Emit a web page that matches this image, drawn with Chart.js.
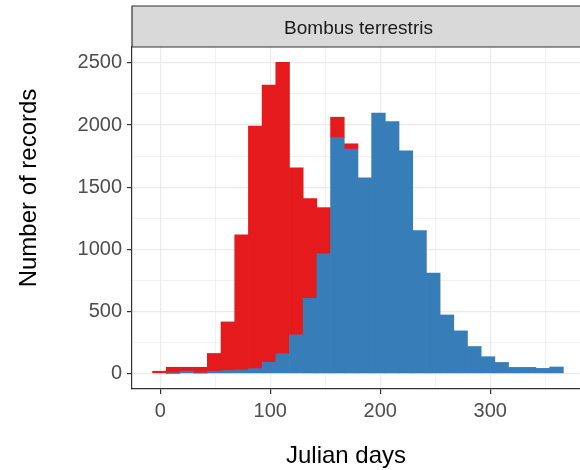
<!DOCTYPE html>
<html>
<head>
<meta charset="utf-8">
<title>Bombus terrestris</title>
<script src="https://cdn.jsdelivr.net/npm/chart.js@4.4.1/dist/chart.umd.min.js"></script>
<style>
  html, body { margin: 0; padding: 0; background: #fff; overflow: hidden; }
  #wrap { width: 580px; height: 470px; overflow: hidden; position: relative; }
  canvas { display: block; }
</style>
</head>
<body>
<div id="wrap"><canvas id="histo" width="590" height="470"></canvas></div>
<script>
// --- DONNEES : records par classe de jours juliens (30 classes) ---
const binMid = [-0.775, 11.675, 24.125, 36.575, 49.025, 61.475, 73.925, 86.375, 98.825, 111.275,
                123.725, 136.175, 148.625, 161.075, 173.525, 185.975, 198.425, 210.875, 223.325, 235.775,
                248.225, 260.675, 273.125, 285.575, 298.025, 310.475, 322.925, 335.375, 347.825, 360.275];
const countBlue = [0, 2, 18, 4, 18, 23, 28, 39, 89, 159,
                   311, 604, 964, 1898, 1807, 1575, 2097, 2028, 1793, 1151,
                   809, 471, 343, 217, 135, 89, 49, 49, 41, 52];
const countRed = [18, 48, 32, 46, 143, 392, 1088, 1952, 2232, 2346,
                  1344, 803, 371, 165, 42, 0, 0, 0, 0, 0,
                  0, 0, 0, 0, 0, 0, 0, 0, 0, 0];

const xMajor = [0, 100, 200, 300];
const xMinor = [50, 150, 250, 350];
const yMajor = [0, 500, 1000, 1500, 2000, 2500];
const yMinor = [250, 750, 1250, 1750, 2250];

const panelTitle = 'Bombus terrestris';
const xTitle = 'Julian days';
const yTitle = 'Number of records';

const FONT = "'Liberation Sans', Arial, sans-serif";

// ticks majeurs + mineurs (les mineurs n'ont pas de label)
function buildTicks(major, minor) {
    return major.concat(minor).sort((a, b) => a - b).map(v => ({ value: v }));
}

// est-ce un tick majeur ? (le contexte n'a pas toujours de tick)
function isMajor(c, major) {
    return !!(c && c.tick && major.includes(c.tick.value));
}

// classes vides : pas de barre du tout (sinon un trait fin apparait)
function toPoints(counts) {
    return counts.map((v, i) => ({ x: binMid[i], y: v > 0 ? v : null }));
}

// bandeau de facette + titres des axes
const facetDecor = {
    id: 'facetDecor',
    afterDraw(chart) {
        const ctx = chart.ctx;
        const area = chart.chartArea;
        const top = 6;
        ctx.save();

        // bandeau gris (le bord droit sort du cadre)
        ctx.fillStyle = '#D9D9D9';
        ctx.fillRect(area.left, top, area.right - area.left, area.top - top);
        ctx.strokeStyle = '#333333';
        ctx.lineWidth = 1.2;
        ctx.beginPath();
        ctx.moveTo(area.right + 2, top);
        ctx.lineTo(area.left, top);
        ctx.lineTo(area.left, area.top);
        ctx.lineTo(area.right + 2, area.top);
        ctx.stroke();

        ctx.fillStyle = '#1A1A1A';
        ctx.font = '19px ' + FONT;
        ctx.textAlign = 'center';
        ctx.textBaseline = 'alphabetic';
        ctx.fillText(panelTitle, 358.5, 34);

        // titre axe x
        ctx.fillStyle = '#000000';
        ctx.font = '24px ' + FONT;
        ctx.fillText(xTitle, 346, 463);

        // titre axe y (vertical)
        ctx.translate(36, 188);
        ctx.rotate(-Math.PI / 2);
        ctx.fillText(yTitle, 0, 0);

        ctx.restore();
    }
};

const ctx = document.getElementById('histo').getContext('2d');

new Chart(ctx, {
    type: 'bar',
    data: {
        datasets: [
            {
                label: 'blue',
                data: toPoints(countBlue),
                backgroundColor: '#377EB8',
                borderWidth: 0
            },
            {
                label: 'red',
                data: toPoints(countRed),
                backgroundColor: '#E41A1C',
                borderWidth: 0
            }
        ]
    },
    options: {
        responsive: false,
        animation: false,
        devicePixelRatio: 1,
        barPercentage: 1,
        categoryPercentage: 1,
        layout: { padding: { top: 47, right: 6, bottom: 0, left: 0 } },
        plugins: {
            legend: { display: false },
            tooltip: { enabled: false }
        },
        scales: {
            x: {
                type: 'linear',
                stacked: true,
                offset: false,
                min: -25.7,
                max: 385.3,
                afterBuildTicks: s => { s.ticks = buildTicks(xMajor, xMinor); },
                afterFit: s => { s.height = 81; },
                border: { display: true, color: '#333333', width: 1.2 },
                grid: {
                    offset: false,
                    color: '#EBEBEB',
                    lineWidth: c => isMajor(c, xMajor) ? 1.2 : 0.7,
                    tickColor: c => isMajor(c, xMajor) ? '#333333' : 'rgba(0,0,0,0)',
                    tickLength: 5,
                    tickWidth: 1.2
                },
                ticks: {
                    autoSkip: false,
                    maxRotation: 0,
                    padding: 5,
                    color: '#4D4D4D',
                    font: { family: FONT, size: 20 },
                    callback: v => xMajor.includes(v) ? String(v) : ''
                }
            },
            y: {
                type: 'linear',
                stacked: true,
                min: -125,
                max: 2628,
                afterBuildTicks: s => { s.ticks = buildTicks(yMajor, yMinor); },
                afterFit: s => { s.width = 132; },
                border: { display: true, color: '#333333', width: 1.2 },
                grid: {
                    color: '#EBEBEB',
                    lineWidth: c => isMajor(c, yMajor) ? 1.2 : 0.7,
                    tickColor: c => isMajor(c, yMajor) ? '#333333' : 'rgba(0,0,0,0)',
                    tickLength: 5,
                    tickWidth: 1.2
                },
                ticks: {
                    autoSkip: false,
                    padding: 5,
                    color: '#4D4D4D',
                    font: { family: FONT, size: 20 },
                    callback: v => yMajor.includes(v) ? String(v) : ''
                }
            }
        }
    },
    plugins: [facetDecor]
});
</script>
</body>
</html>
